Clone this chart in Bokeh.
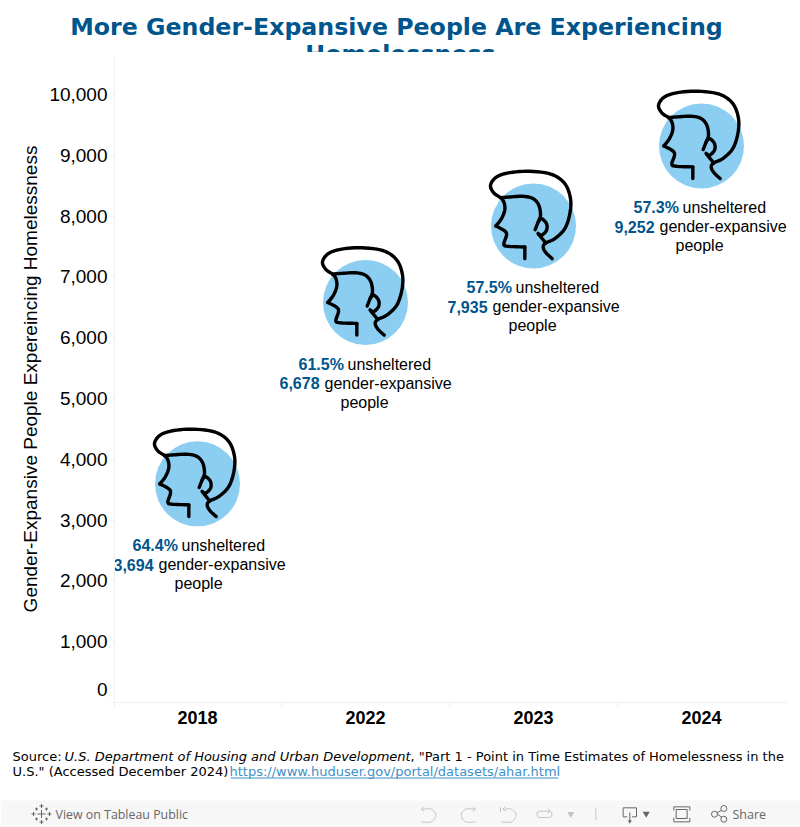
from bokeh.embed import file_html
from bokeh.resources import INLINE
from bokeh.plotting import figure
from bokeh.layouts import column
from bokeh.models import Range1d, FixedTicker, NumeralTickFormatter
from bokeh.core.properties import value

years = ["2018", "2022", "2023", "2024"]
people = [3694, 6678, 7935, 9252]
unsheltered = ["64.4%", "61.5%", "57.5%", "57.3%"]
y_ticks = [0, 1000, 2000, 3000, 4000, 5000, 6000, 7000, 8000, 9000, 10000]
title_lines = ["More Gender-Expansive People Are Experiencing", "Homelessness"]
y_title = "Gender-Expansive People Expereincing Homelessness"

BLUE = "#00558c"
AXIS = "#f0f0f0"
SANS = "Liberation Sans"
DEJA = "DejaVu Sans"
W = 800

# ---------- title strip (its frame clips the second line, as in the reference)
t = figure(width=W, height=52, x_range=Range1d(0, W), y_range=Range1d(52, 0),
           output_backend="svg", toolbar_location=None, x_axis_type=None, y_axis_type=None,
           min_border=0, outline_line_color=None, frame_align=False)
t.grid.visible = False
t.text(x=[396, 400], y=[26, 53.7], text=title_lines, text_align="center", text_baseline="middle",
       text_font=value(DEJA), text_font_style="bold", text_font_size="23.7px", text_color=BLUE)

# ---------- main chart
PX_X = 168.0          # pixels per category
x_start = -83.0 / PX_X
x_end = x_start + 673.0 / PX_X
y_end = 10640.0
PX_Y = 647.0 / y_end  # pixels per person

p = figure(width=W, height=688, x_range=Range1d(x_start, x_end), y_range=Range1d(0, y_end),
           output_backend="svg", toolbar_location=None,
           min_border_left=114, min_border_right=13, min_border_top=3, min_border_bottom=38,
           outline_line_color=None, frame_align=False)
p.grid.visible = False

xs = list(range(len(years)))
p.xaxis.ticker = FixedTicker(ticks=xs, minor_ticks=[x_start, 0.5, 1.5, 2.5])
p.xaxis.major_label_overrides = {i: y for i, y in enumerate(years)}
p.xaxis.major_tick_line_color = None
p.xaxis.minor_tick_line_color = AXIS
p.xaxis.minor_tick_out = 5
p.xaxis.minor_tick_in = 0
p.xaxis.axis_line_color = AXIS
p.xaxis.major_label_text_font = SANS
p.xaxis.major_label_text_font_style = "bold"
p.xaxis.major_label_text_font_size = "18px"
p.xaxis.major_label_text_color = "#000000"
p.xaxis.major_label_standoff = 2

p.yaxis.ticker = FixedTicker(ticks=y_ticks)
p.yaxis.formatter = NumeralTickFormatter(format="0,0")
# the zero label sits higher than its tick in the reference: a blank second line lifts it
p.yaxis.major_label_overrides = {0: "0\n\u00a0"}
p.yaxis.major_tick_line_color = AXIS
p.yaxis.major_tick_out = 4
p.yaxis.major_tick_in = 0
p.yaxis.minor_tick_line_color = None
p.yaxis.axis_line_color = AXIS
p.yaxis.major_label_text_font = SANS
p.yaxis.major_label_text_font_size = "19px"
p.yaxis.major_label_text_color = "#000000"
p.yaxis.major_label_standoff = 3
p.yaxis.axis_label = y_title
p.yaxis.axis_label_text_font = SANS
p.yaxis.axis_label_text_font_size = "19px"
p.yaxis.axis_label_text_font_style = "normal"
p.yaxis.axis_label_text_color = "#000000"
p.yaxis.axis_label_standoff = 5

def smooth(pts, n=6):
    """Catmull-Rom rounding of the icon outline."""
    out = []
    P = [pts[0]] + list(pts) + [pts[-1]]
    for i in range(1, len(P) - 2):
        for k in range(n):
            u = k / n
            a, b, c, d = P[i - 1], P[i], P[i + 1], P[i + 2]
            out.append(tuple(0.5 * (2 * b[j] + (c[j] - a[j]) * u + (2 * a[j] - 5 * b[j] + 4 * c[j] - d[j]) * u * u
                                    + (3 * b[j] - a[j] - 3 * c[j] + d[j]) * u ** 3) for j in (0, 1)))
    out.append(pts[-1])
    return out

# head icon outline, in zoomed icon units (3 units per pixel), circle centre at (141, 177)
hair_face = [(197, 275), (178, 257), (170, 240), (178, 228), (205, 215), (235, 185), (250, 140), (252, 95),
             (235, 50), (195, 22), (130, 13), (70, 17), (30, 30), (12, 55), (22, 78), (42, 92), (52, 105),
             (55, 128), (45, 155), (28, 177)]
jaw = [(28, 177), (55, 192), (60, 205), (52, 232), (65, 238), (115, 240)]
neck = [(115, 240), (115, 275)]
skull = [(42, 92), (70, 90), (110, 88), (140, 95), (157, 115), (162, 145), (155, 165), (146, 188)]
ear = [(155, 165), (165, 155), (180, 170), (180, 190), (165, 205), (155, 200), (178, 228)]
CIRCLE_DROP = 6  # pixels the icon sits below its data point

p.scatter(xs, [v - CIRCLE_DROP / PX_Y for v in people], marker="circle", size=85,
          fill_color="#8ccdf2", line_color=None)
for x0, v in zip(xs, people):
    lx, ly = [], []
    for part in (hair_face, jaw, neck, skull, ear):
        sm = smooth(part) if len(part) > 2 else part
        lx.append([x0 + (a - 141) / 3 / PX_X for a, b in sm])
        ly.append([v - CIRCLE_DROP / PX_Y - (b - 177) / 3 / PX_Y for a, b in sm])
    p.multi_line(lx, ly, line_color="#000000", line_width=3.4, line_join="round", line_cap="round")

def note(x, y, txt, dx, dy, bold=False, color="#000000", align="left"):
    p.text(x=[x], y=[y], text=[txt], x_offset=dx, y_offset=dy, text_align=align, text_baseline="middle",
           text_font=value(SANS), text_font_size="16px", text_font_style="bold" if bold else "normal",
           text_color=color)

for x0, v, u, s in zip(xs, people, unsheltered, (-1, -3, -3, -4)):
    note(x0, v, u, -64 + s, 68, True, BLUE)
    note(x0, v, "unsheltered", -15 + s, 68)
    note(x0, v, f"{v:,}", -83 + s, 87, True, BLUE)
    note(x0, v, "gender-expansive", -38 + s, 87)
    note(x0, v, "people", 2 + s, 106, align="center")

# ---------- footer: source note and viewer toolbar
f = figure(width=W, height=87, x_range=Range1d(0, W), y_range=Range1d(827, 740),
           output_backend="svg", toolbar_location=None, x_axis_type=None, y_axis_type=None,
           min_border=0, outline_line_color=None, frame_align=False)
f.grid.visible = False
f.quad(left=[0], right=[W], top=[800], bottom=[827], fill_color="#f7f7f7", line_color=None)

def ftxt(x, y, txt, style="normal", color="#000000", size="13px", font=DEJA):
    f.text(x=[x], y=[y], text=[txt], text_baseline="middle", text_font=value(font), text_font_size=size,
           text_font_style=style, text_color=color)

ftxt(12, 756, "Source: ")
ftxt(64, 756, "U.S. Department of Housing and Urban Development", "italic")
ftxt(410, 756, ', "Part 1 - Point in Time Estimates of Homelessness in the')
ftxt(12, 771, 'U.S." (Accessed December 2024) ')
ftxt(229, 771, "https://www.huduser.gov/portal/datasets/ahar.html", color="#3f8fc9")
f.line([230, 558], [777.5, 777.5], line_color="#3f8fc9", line_width=1)

GRAY = "#666666"
ftxt(55, 813.5, "View on Tableau Public", color=GRAY, size="12.4px", font="Open Sans")
ftxt(732, 813.5, "Share", color=GRAY, size="12.5px", font="Open Sans")

def zline(ox, pts, color, w=1.0):
    f.line([ox + a / 3 for a, b in pts], [798 + b / 3 for a, b in pts], line_color=color, line_width=w)

LIGHT = "#c4c4c4"
# logo
for dx, dy, r in [(0, 0, 4), (-8, 0, 2), (8, 0, 2), (0, -8, 2), (0, 8, 2), (-5, -5, 1.5), (5, -5, 1.5), (-5, 5, 1.5), (5, 5, 1.5)]:
    f.line([41 + dx - r, 41 + dx + r], [813.5 + dy] * 2, line_color=GRAY, line_width=1)
    f.line([41 + dx] * 2, [813.5 + dy - r, 813.5 + dy + r], line_color=GRAY, line_width=1)
# undo / redo / replay / refresh
zline(410, smooth([(35, 32), (62, 32), (76, 50), (62, 70), (32, 70)]), LIGHT)
zline(410, [(40, 24), (32, 32), (40, 38)], LIGHT)
zline(410, smooth([(195, 32), (165, 32), (152, 50), (165, 70), (195, 70)]), LIGHT)
zline(410, [(187, 24), (195, 32), (187, 38)], LIGHT)
zline(410, [(270, 25), (270, 40)], LIGHT)
zline(410, smooth([(280, 32), (303, 32), (317, 50), (303, 70), (272, 70)]), LIGHT)
zline(410, [(285, 24), (277, 32), (285, 38)], LIGHT)
zline(410, [(418, 38), (386, 38), (380, 42), (380, 52), (386, 57), (418, 57), (424, 52), (424, 42), (418, 38)], LIGHT)
zline(410, [(412, 31), (420, 38), (412, 44)], LIGHT)
f.scatter([570.3], [813.5], marker="inverted_triangle", size=7, fill_color=LIGHT, line_color=None)
zline(410, [(556, 30), (556, 65)], LIGHT)
# download, fullscreen, share
zline(610, [(50, 55), (38, 55), (38, 28), (78, 28), (78, 55), (65, 55)], GRAY)
zline(610, [(58, 42), (58, 70)], GRAY)
f.scatter([629.3], [821], marker="inverted_triangle", size=4, fill_color=GRAY, line_color=None)
f.scatter([645.7], [813.3], marker="inverted_triangle", size=7, fill_color=GRAY, line_color=None)
zline(610, [(197, 33), (230, 33), (230, 60), (197, 60), (197, 33)], GRAY)
zline(610, [(190, 36), (190, 25), (238, 25), (238, 36)], GRAY)
zline(610, [(190, 58), (190, 70), (238, 70), (238, 58)], GRAY)
zline(610, [(336, 34), (317, 44), (336, 58)], GRAY)
f.scatter([723.3, 723.3, 714], [808, 818.7, 813.7], marker="circle", size=6, fill_color="#f7f7f7", line_color=GRAY)

page = column(t, p, f, spacing=0, styles={"position": "absolute", "left": "0px", "top": "0px"})
open("out.html", "w").write(file_html(page, INLINE))
